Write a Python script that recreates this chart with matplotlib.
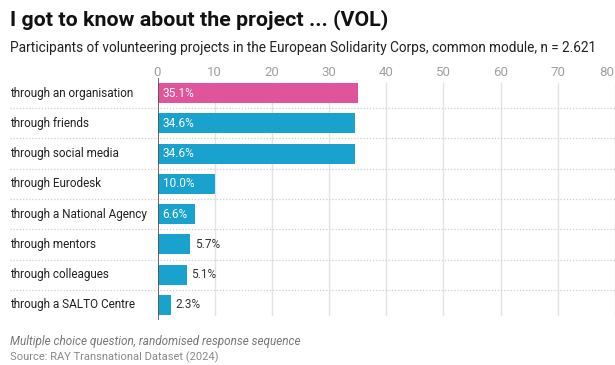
import matplotlib.pyplot as plt
from matplotlib.transforms import blended_transform_factory

categories = ["through an organisation", "through friends", "through social media",
              "through Eurodesk", "through a National Agency", "through mentors",
              "through colleagues", "through a SALTO Centre"]
values = [35.1, 34.6, 34.6, 10.0, 6.6, 5.7, 5.1, 2.3]
highlight = [True, False, False, False, False, False, False, False]
ticks = [0, 10, 20, 30, 40, 50, 60, 70, 80]

pink = "#e0559a"
blue = "#19a2ce"

plt.rcParams['font.family'] = ['Roboto', 'DejaVu Sans']

fig = plt.figure(figsize=(6.15, 3.65), dpi=100)
W, H = 615, 365
left, right, top, bottom = 157.5, 615, 78, 320
ax = fig.add_axes([left / W, 1 - bottom / H, (right - left) / W, (bottom - top) / H])

y = list(range(len(categories)))
colors = [pink if h else blue for h in highlight]
ax.barh(y, values, height=0.66, color=colors, zorder=3)
ax.set_xlim(0, 80)
ax.set_ylim(len(categories) - 0.5, -0.5)

# grid + zero line
for t in ticks:
    ax.axvline(t, ymin=0.02, ymax=0.98, color="#e3e3e3", lw=1, zorder=1)
ax.axvline(0, color="#555555", lw=1.2, zorder=4)

# tick labels on top (last one pulled inside the edge)
for t in ticks:
    xp = (left + t * (right - left) / 80) / W
    if t == ticks[-1]:
        fig.text(xp - 1 / W, 1 - 72 / H, str(t), ha="right", va="center",
                 fontsize=9.5, color="#a0a0a0")
    else:
        fig.text(xp, 1 - 72 / H, str(t), ha="center", va="center",
                 fontsize=9.5, color="#a0a0a0")

ax.set_xticks([])
ax.set_yticks([])
for s in ax.spines.values():
    s.set_visible(False)

# dotted separators across labels and plot
tr = blended_transform_factory(ax.transAxes, ax.transData)
x0 = (10 - left) / (right - left)
for i in range(len(categories) - 1):
    ax.plot([x0, 1], [i + 0.5, i + 0.5], transform=tr, color="#cfcfcf", lw=0.9,
            ls=(0, (1, 1.5)), clip_on=False, zorder=2)

# category labels
for i, c in enumerate(categories):
    ax.text(x0, i, c, transform=tr, ha="left", va="center", fontsize=8.5, color="#222222")

# value labels
for i, v in enumerate(values):
    txt = "%.1f%%" % v
    if v >= 6:
        ax.text(0.9, i, txt, ha="left", va="center", fontsize=8.5, color="white", zorder=5)
    else:
        ax.text(v + 0.8, i, txt, ha="left", va="center", fontsize=8.5, color="#333333", zorder=5)

fig.text(10 / W, 1 - 20 / H, "I got to know about the project ... (VOL)", fontsize=15.4,
         fontweight="bold", color="#111111", va="center")
fig.text(10 / W, 1 - 48 / H, "Participants of volunteering projects in the European Solidarity Corps, common module, n = 2.621",
         fontsize=9.8, color="#222222", va="center")
fig.text(10 / W, 1 - 342 / H, "Multiple choice question, randomised response sequence",
         fontsize=8.5, style="italic", color="#777777", va="center")
fig.text(10 / W, 1 - 357 / H, "Source: RAY Transnational Dataset (2024)",
         fontsize=8, color="#888888", va="center")

fig.savefig("out.png", dpi=100)
